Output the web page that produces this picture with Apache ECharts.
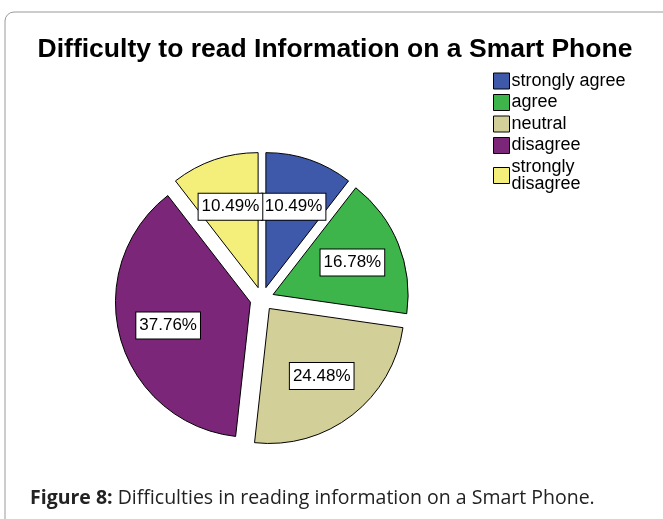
<!DOCTYPE html>
<html>
<head>
<meta charset="utf-8">
<script src="https://cdn.jsdelivr.net/npm/echarts@6/dist/echarts.min.js"></script>
<style>
  html, body { margin: 0; padding: 0; background: #fff; }
  #chart { width: 663px; height: 519px; }
</style>
</head>
<body>
<div id="chart"></div>
<script>
var categories = ['strongly agree', 'agree', 'neutral', 'disagree', 'strongly disagree'];
var percents = [10.49, 16.78, 24.48, 37.76, 10.49];
var colors = ['#3e58aa', '#3db54a', '#d3cf98', '#7c2679', '#f4ef7a'];

var pieData = categories.map(function (name, i) {
  return {name: name, value: percents[i], selected: true, itemStyle: {color: colors[i]}};
});
var labelData = categories.map(function (name, i) {
  return {name: name, value: percents[i], selected: true};
});

var chart = echarts.init(document.getElementById('chart'));

chart.setOption({
  animation: false,
  backgroundColor: '#fff',
  graphic: [
    {
      type: 'rect',
      shape: {x: 5, y: 12, width: 720, height: 600, r: 9},
      style: {fill: 'none', stroke: '#9a9a9a', lineWidth: 1},
      silent: true
    }
  ],
  title: [
    {
      text: 'Difficulty to read Information on a Smart Phone',
      left: 330,
      top: 31,
      textAlign: 'center',
      textStyle: {
        fontFamily: 'Liberation Sans, Arial',
        fontSize: 26.5,
        fontWeight: 'bold',
        color: '#000'
      }
    },
    {
      text: '{b|Figure 8:} Difficulties in reading information on a Smart Phone.',
      left: 25,
      top: 483,
      textStyle: {
        fontFamily: 'Open Sans',
        fontSize: 19.5,
        fontWeight: 'normal',
        color: '#222',
        rich: {
          b: {fontFamily: 'Open Sans', fontSize: 19.5, fontWeight: 'bold', color: '#222'}
        }
      }
    }
  ],
  legend: {
    data: categories,
    orient: 'vertical',
    left: 488,
    top: 67,
    icon: 'rect',
    itemWidth: 16,
    itemHeight: 16,
    itemGap: 3.5,
    selectedMode: false,
    itemStyle: {borderColor: '#000', borderWidth: 1},
    formatter: function (name) {
      return name === 'strongly disagree' ? 'strongly\ndisagree' : name;
    },
    textStyle: {
      fontFamily: 'Liberation Sans, Arial',
      fontSize: 18,
      lineHeight: 17,
      color: '#000',
      padding: [0, 0, 0, -3]
    }
  },
  series: [
    {
      type: 'pie',
      center: [262, 299],
      radius: [0, 135],
      startAngle: 90,
      selectedMode: 'multiple',
      selectedOffset: 12,
      data: pieData,
      label: {show: false},
      labelLine: {show: false},
      itemStyle: {borderColor: '#000', borderWidth: 1},
      emphasis: {disabled: true},
      silent: true
    },
    {
      type: 'pie',
      center: [262, 299],
      radius: [30, 135],
      startAngle: 90,
      selectedMode: 'multiple',
      selectedOffset: 12,
      data: labelData,
      z: 5,
      itemStyle: {color: 'rgba(0,0,0,0)', borderWidth: 0},
      avoidLabelOverlap: false,
      labelLayout: {hideOverlap: false},
      emphasis: {disabled: true},
      silent: true,
      label: {
        show: true,
        position: 'inside',
        formatter: function (p) { return p.value.toFixed(2) + '%'; },
        fontFamily: 'Liberation Sans, Arial',
        fontSize: 17,
        color: '#000',
        backgroundColor: '#fff',
        borderColor: '#000',
        borderWidth: 1,
        padding: [5, 3, 4, 3]
      },
      labelLine: {show: false}
    }
  ]
});
</script>
</body>
</html>
